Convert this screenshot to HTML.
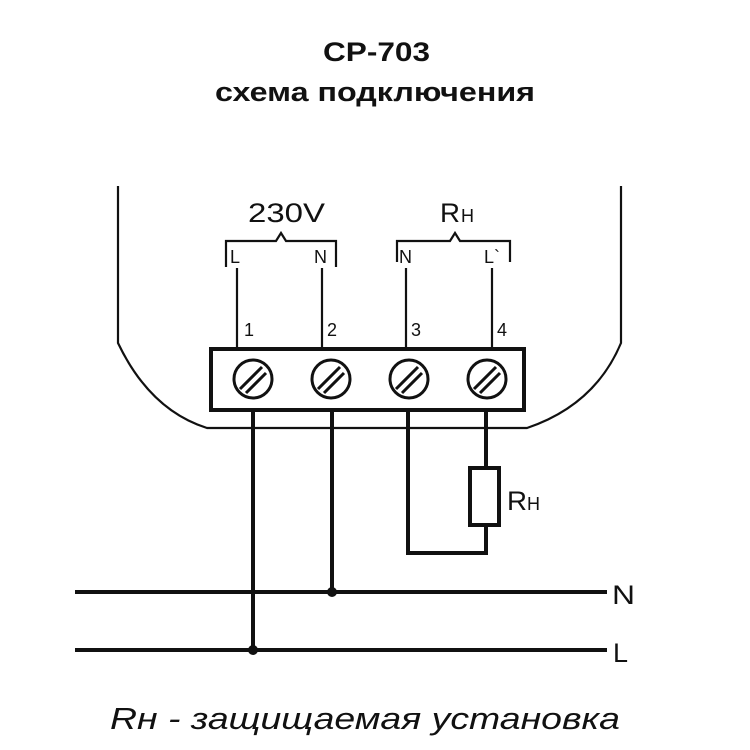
<!DOCTYPE html>
<html><head><meta charset="utf-8"><style>
body{margin:0;background:#fff}
svg{display:block}
text{font-family:"Liberation Sans",sans-serif;fill:#111}
</style></head><body>
<svg width="750" height="750" viewBox="0 0 750 750">
<text x="323" y="61" font-size="27" font-weight="bold" textLength="107" lengthAdjust="spacingAndGlyphs">CP-703</text>
<text x="215" y="101" font-size="27" font-weight="bold" textLength="320" lengthAdjust="spacingAndGlyphs">схема подключения</text>
<g fill="none" stroke="#111" stroke-width="2.2">
<path d="M118 186 V343 Q150 410 207 428 H527 Q595 405 621 343 V186"/>
<path d="M226 267 V241 H276 L281 233 L286 241 H336 V267"/>
<path d="M397 262 V241 H450 L455 233 L460 241 H510 V262"/>
<path d="M237 268 V348 M322 268 V348 M406 268 V348 M492 268 V348"/>
</g>
<text x="248" y="222" font-size="27" textLength="77" lengthAdjust="spacingAndGlyphs">230V</text>
<text x="440" y="222" font-size="27" textLength="20" lengthAdjust="spacingAndGlyphs">R</text><text x="461" y="222" font-size="18">H</text>
<g font-size="18">
<text x="230" y="263">L</text><text x="314" y="263">N</text>
<text x="399" y="263">N</text><text x="484" y="263">L`</text>
<text x="244" y="336">1</text><text x="327" y="336">2</text>
<text x="411" y="336">3</text><text x="497" y="336">4</text>
</g>
<rect x="211" y="349" width="313" height="61" fill="none" stroke="#111" stroke-width="4"/>
<g fill="none" stroke="#111" stroke-width="3">
<circle cx="253" cy="379" r="19"/><circle cx="331" cy="379" r="19"/>
<circle cx="409" cy="379" r="19"/><circle cx="487" cy="379" r="19"/>
</g>
<g stroke="#111" stroke-width="3">
<path d="M243 392 L265 370 M249 396 L269 376" transform="translate(-3,-3)"/>
<path d="M321 392 L343 370 M327 396 L347 376" transform="translate(-3,-3)"/>
<path d="M399 392 L421 370 M405 396 L425 376" transform="translate(-3,-3)"/>
<path d="M477 392 L499 370 M483 396 L503 376" transform="translate(-3,-3)"/>
</g>
<g fill="none" stroke="#111" stroke-width="4">
<path d="M253 410 V650 M332 410 V592"/>
<path d="M408 410 V553 H486 V525 M486 410 V467"/>
<rect x="470" y="468" width="29" height="57"/>
<path d="M75 592 H607 M75 650 H607"/>
</g>
<circle cx="332" cy="592" r="5" fill="#111"/>
<circle cx="253" cy="650" r="5" fill="#111"/>
<text x="507" y="510" font-size="27" textLength="20" lengthAdjust="spacingAndGlyphs">R</text><text x="527" y="510" font-size="18">H</text>
<text x="612" y="604" font-size="27" textLength="23" lengthAdjust="spacingAndGlyphs">N</text>
<text x="613" y="662" font-size="27">L</text>
<text x="110" y="729" font-size="31" font-style="italic" textLength="510" lengthAdjust="spacingAndGlyphs">Rн - защищаемая установка</text>
</svg>
</body></html>
